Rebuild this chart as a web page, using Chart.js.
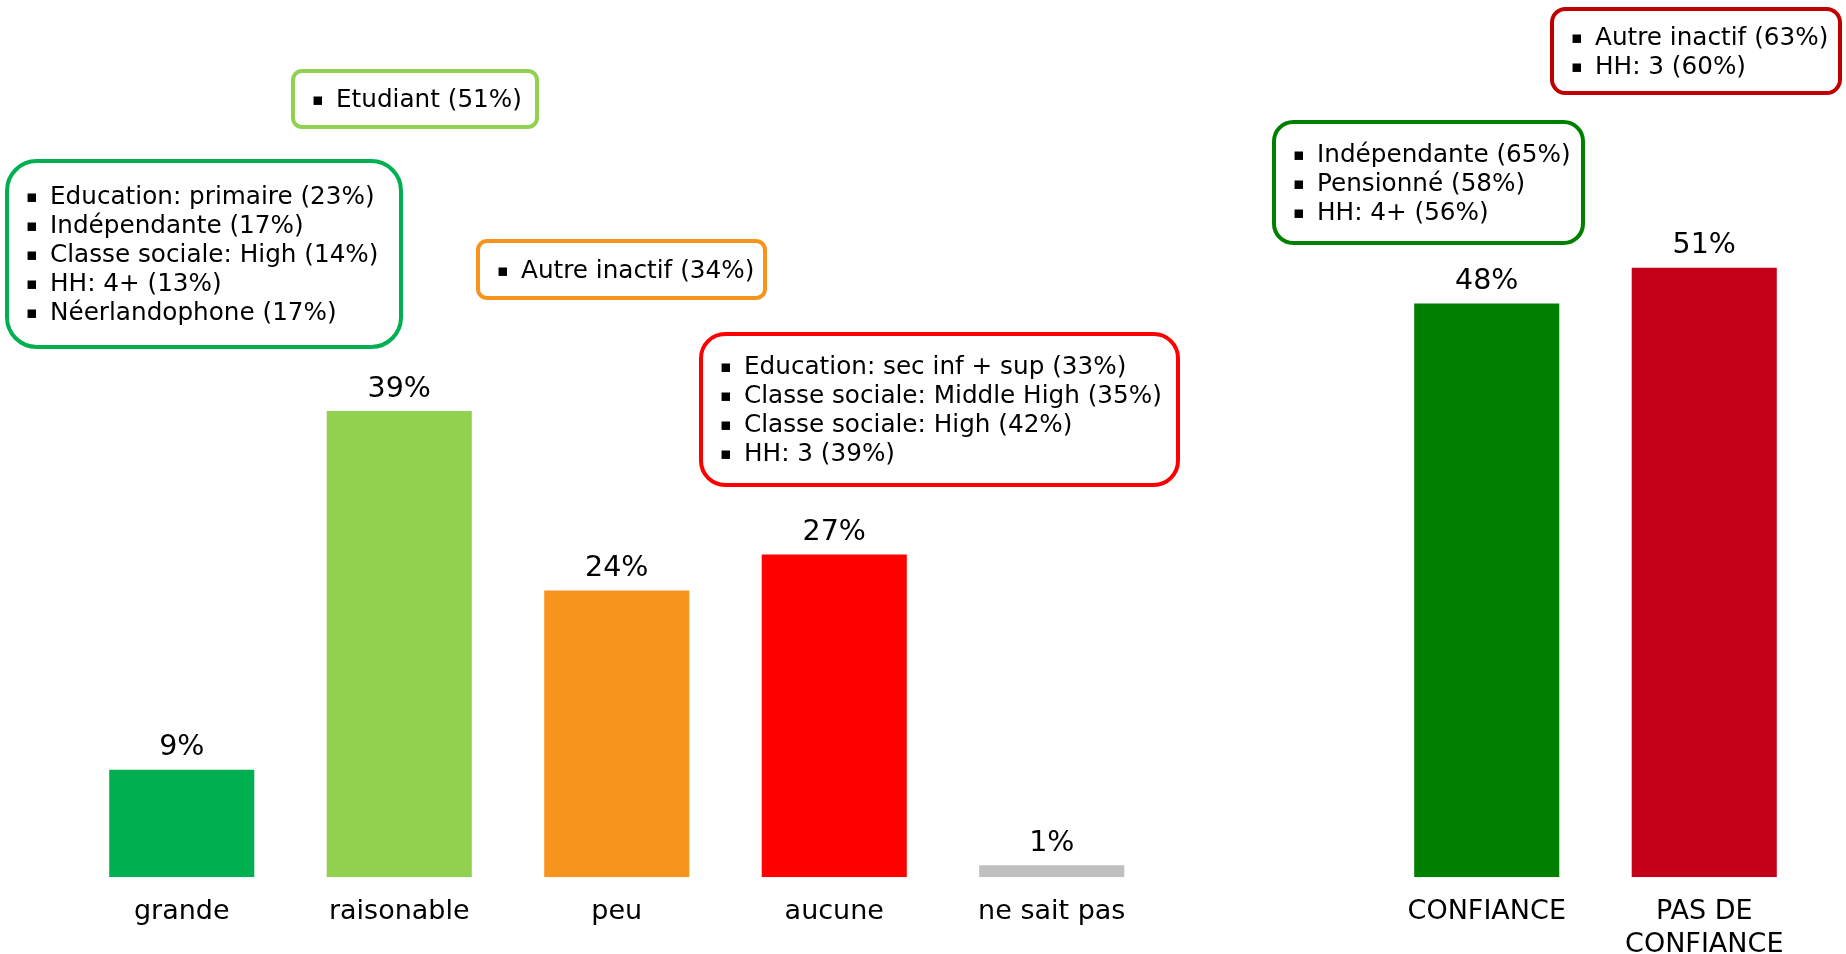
<!DOCTYPE html>
<html lang="fr">

<head>
    <meta charset="UTF-8">
    <title>Confiance</title>
    <script src="https://cdn.jsdelivr.net/npm/chart.js@4.4.0/dist/chart.umd.min.js"></script>
    <style>
        body { margin: 0; background: #fff; }
        #wrap { width: 1846px; height: 954px; position: relative; }
    </style>
</head>

<body>
    <div id="wrap"><canvas id="mychart"></canvas></div>

    <script>
        // categories (empty slot between the two groups)
        const categories = ['grande', 'raisonable', 'peu', 'aucune', 'ne sait pas', '', 'CONFIANCE', ['PAS DE', 'CONFIANCE']];
        const values = [9, 39, 24, 27, 1, null, 48, 51];
        const barColors = ['#00B050', '#92D050', '#F7941D', '#FF0000', '#BFBFBF', '#FFFFFF', '#008000', '#C4001A'];

        // profile boxes
        const boxGrande = ['Education: primaire (23%)', 'Indépendante (17%)', 'Classe sociale: High (14%)', 'HH: 4+ (13%)', 'Néerlandophone (17%)'];
        const boxRaisonable = ['Etudiant (51%)'];
        const boxPeu = ['Autre inactif (34%)'];
        const boxAucune = ['Education: sec inf + sup (33%)', 'Classe sociale: Middle High (35%)', 'Classe sociale: High (42%)', 'HH: 3 (39%)'];
        const boxConfiance = ['Indépendante (65%)', 'Pensionné (58%)', 'HH: 4+ (56%)'];
        const boxPasConfiance = ['Autre inactif (63%)', 'HH: 3 (60%)'];

        const FONT = '"DejaVu Sans", Verdana, sans-serif';

        // placement of the boxes on the page
        const boxes = [
            { lines: boxGrande, color: '#00B050', x: 7, y: 161, w: 394, h: 186 },
            { lines: boxRaisonable, color: '#92D050', x: 293, y: 71, w: 244, h: 56 },
            { lines: boxPeu, color: '#F7941D', x: 478, y: 241, w: 287, h: 57 },
            { lines: boxAucune, color: '#FF0000', x: 701, y: 334, w: 477, h: 151 },
            { lines: boxConfiance, color: '#008000', x: 1274, y: 122, w: 309, h: 121 },
            { lines: boxPasConfiance, color: '#C00000', x: 1552, y: 9, w: 288, h: 84 },
        ];

        const boxPlugin = {
            id: 'boxes',
            afterDraw(chart) {
                const ctx = chart.ctx;
                ctx.save();
                boxes.forEach(b => {
                    const r = Math.min(b.w, b.h) * 0.16;
                    ctx.beginPath();
                    ctx.roundRect(b.x, b.y, b.w, b.h, r);
                    ctx.fillStyle = '#fff';
                    ctx.fill();
                    ctx.lineWidth = 4;
                    ctx.strokeStyle = b.color;
                    ctx.stroke();
                    ctx.fillStyle = '#000';
                    ctx.textBaseline = 'middle';
                    ctx.textAlign = 'left';
                    const lh = 29;
                    const y0 = b.y + b.h / 2 - (b.lines.length - 1) * lh / 2 + 2;
                    b.lines.forEach((t, i) => {
                        const yy = y0 + i * lh;
                        ctx.font = '17px ' + FONT;
                        ctx.fillText('\u25AA', b.x + 19, yy);
                        ctx.font = '24.7px ' + FONT;
                        ctx.fillText(t, b.x + 43, yy);
                    });
                });
                ctx.restore();
            }
        };

        const valuePlugin = {
            id: 'values',
            afterDatasetsDraw(chart) {
                const ctx = chart.ctx;
                const meta = chart.getDatasetMeta(0);
                ctx.save();
                ctx.font = '28.5px ' + FONT;
                ctx.fillStyle = '#000';
                ctx.textAlign = 'center';
                ctx.textBaseline = 'middle';
                meta.data.forEach((bar, i) => {
                    if (values[i] == null) return;
                    ctx.fillText(values[i] + '%', bar.x, bar.y - 22);
                });
                ctx.restore();
            }
        };

        const ctx = document.getElementById('mychart');
        const mychart = new Chart(ctx, {
            type: 'bar',
            data: {
                labels: categories,
                datasets: [{
                    data: values,
                    backgroundColor: barColors,
                    categoryPercentage: 1,
                    barPercentage: 0.667,
                }],
            },
            options: {
                responsive: true,
                maintainAspectRatio: false,
                animation: false,
                layout: { padding: { left: 73, right: 33, top: 0, bottom: -18 } },
                plugins: {
                    legend: { display: false },
                    tooltip: { enabled: false },
                },
                scales: {
                    x: {
                        grid: { display: false },
                        border: { display: false },
                        ticks: {
                            color: '#000',
                            padding: 11,
                            autoSkip: false,
                            maxRotation: 0,
                            font: { family: FONT, size: 27, lineHeight: 1.2 },
                        },
                    },
                    y: {
                        display: false,
                        min: 0,
                        max: 73.4,
                    }
                }
            },
            plugins: [valuePlugin, boxPlugin]
        });
    </script>
</body>

</html>
